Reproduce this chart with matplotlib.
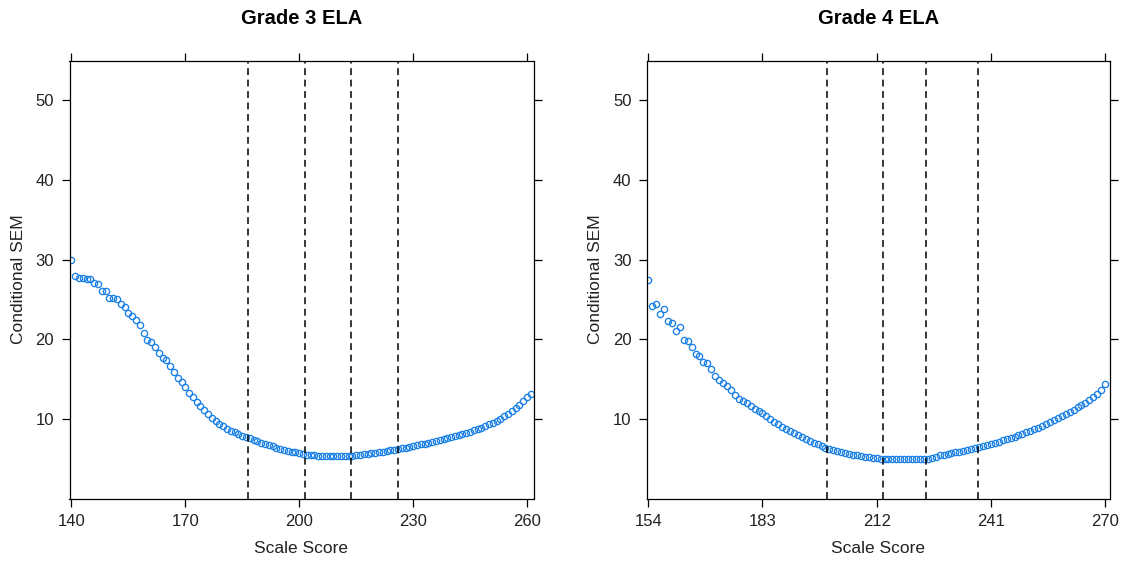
import matplotlib
matplotlib.use("Agg")
import matplotlib.pyplot as plt
import numpy as np

plt.rcParams['font.family'] = ['Liberation Sans', 'DejaVu Sans']

# ---- Grade 3 ELA ----
g3_scores = list(range(140, 262))
g3_sem = [30.0, 27.9, 27.7, 27.7, 27.6, 27.6, 27.1, 26.9, 26.1, 26.1,
          25.2, 25.2, 25.1, 24.4, 24.0, 23.3, 22.9, 22.4, 21.8, 20.8,
          19.9, 19.7, 19.0, 18.3, 17.7, 17.4, 16.6, 15.9, 15.1, 14.6,
          14.0, 13.3, 12.7, 12.1, 11.6, 11.1, 10.6, 10.1, 9.7, 9.4,
          9.1, 8.75, 8.5, 8.3, 8.1, 7.9, 7.75, 7.55, 7.35, 7.2,
          7.0, 6.85, 6.7, 6.55, 6.4, 6.25, 6.1, 6.0, 5.9, 5.8,
          5.7, 5.6, 5.5, 5.45, 5.4, 5.35, 5.3, 5.3, 5.3, 5.3,
          5.3, 5.3, 5.3, 5.3, 5.35, 5.4, 5.5, 5.55, 5.6, 5.7,
          5.75, 5.8, 5.9, 6.0, 6.05, 6.1, 6.2, 6.3, 6.4, 6.5,
          6.6, 6.7, 6.8, 6.9, 7.0, 7.1, 7.2, 7.3, 7.45, 7.55,
          7.7, 7.8, 7.95, 8.1, 8.2, 8.4, 8.55, 8.7, 8.9, 9.1,
          9.3, 9.5, 9.75, 10.0, 10.3, 10.6, 11.0, 11.4, 11.8, 12.2,
          12.7, 13.1]
g3_cuts = [186.6, 201.6, 213.7, 226.1]
g3_ticks = [140, 170, 200, 230, 260]
g3_xlim = (139.5, 261.7)

# ---- Grade 4 ELA ----
g4_scores = list(range(154, 271))
g4_sem = [27.5, 24.2, 24.4, 23.2, 23.85, 22.3, 22.05, 21.0, 21.5, 19.9,
          19.8, 19.0, 18.2, 17.9, 17.15, 17.0, 16.3, 15.4, 14.9, 14.45,
          14.1, 13.6, 13.0, 12.55, 12.25, 11.95, 11.6, 11.3, 11.0, 10.7,
          10.35, 10.0, 9.6, 9.3, 9.0, 8.75, 8.5, 8.2, 7.95, 7.7,
          7.45, 7.2, 7.0, 6.8, 6.6, 6.4, 6.25, 6.1, 5.95, 5.8,
          5.7, 5.6, 5.5, 5.45, 5.35, 5.25, 5.2, 5.1, 5.05, 5.0,
          4.95, 4.95, 4.95, 4.95, 4.95, 4.95, 4.95, 4.95, 4.95, 4.95,
          4.95, 5.0, 5.1, 5.25, 5.4, 5.5, 5.6, 5.7, 5.8, 5.9,
          6.0, 6.1, 6.25, 6.35, 6.5, 6.6, 6.75, 6.9, 7.0, 7.15,
          7.3, 7.45, 7.6, 7.75, 7.95, 8.1, 8.3, 8.5, 8.7, 8.9,
          9.1, 9.35, 9.6, 9.85, 10.1, 10.35, 10.6, 10.9, 11.15, 11.45,
          11.7, 12.0, 12.35, 12.7, 13.1, 13.6, 14.4]
g4_cuts = [199.3, 213.5, 224.6, 237.7]
g4_ticks = [154, 183, 212, 241, 270]
g4_xlim = (153.6, 271.3)

titles = ["Grade 3 ELA", "Grade 4 ELA"]
y_ticks = [10, 20, 30, 40, 50]
y_lim = (0, 55)

W, H = 1123, 562
fig = plt.figure(figsize=(W / 100, H / 100), dpi=100)

panels = [
    (69.5, 464.0, g3_scores, g3_sem, g3_cuts, g3_ticks, g3_xlim, titles[0]),
    (646.7, 463.5, g4_scores, g4_sem, g4_cuts, g4_ticks, g4_xlim, titles[1]),
]
top_px, bot_px = 60.5, 498.5
text_col = '#222222'
for left_px, w_px, xs, ys, cuts, xt, xl, title in panels:
    ax = fig.add_axes([left_px / W, 1 - bot_px / H, w_px / W, (bot_px - top_px) / H])
    ax.plot(xs, ys, linestyle='none', marker='o', markersize=4.5,
            markerfacecolor='none', markeredgecolor='#1a80e6', markeredgewidth=0.95,
            zorder=2)
    for c in cuts:
        ax.axvline(c, color='black', linestyle=(0, (4.5, 3)), linewidth=1.1, zorder=3)
    ax.set_xlim(*xl)
    ax.set_ylim(*y_lim)
    ax.set_xticks(xt)
    ax.set_yticks(y_ticks)
    ax.tick_params(direction='out', length=6, width=0.9, colors='black',
                   labelcolor=text_col, labelsize=12, pad=5,
                   top=True, right=True, labeltop=False, labelright=False)
    for s in ax.spines.values():
        s.set_linewidth(0.9)
        s.set_color('black')
    ax.set_xlabel("Scale Score", fontsize=12.5, color=text_col, labelpad=9)
    ax.set_ylabel("Conditional SEM", fontsize=12.5, color=text_col, labelpad=7)
    fig.text((left_px + w_px / 2) / W, 1 - 18 / H, title, ha='center', va='center',
             fontsize=14.5, fontweight='bold', color='black')

fig.savefig("out.png", dpi=100)
